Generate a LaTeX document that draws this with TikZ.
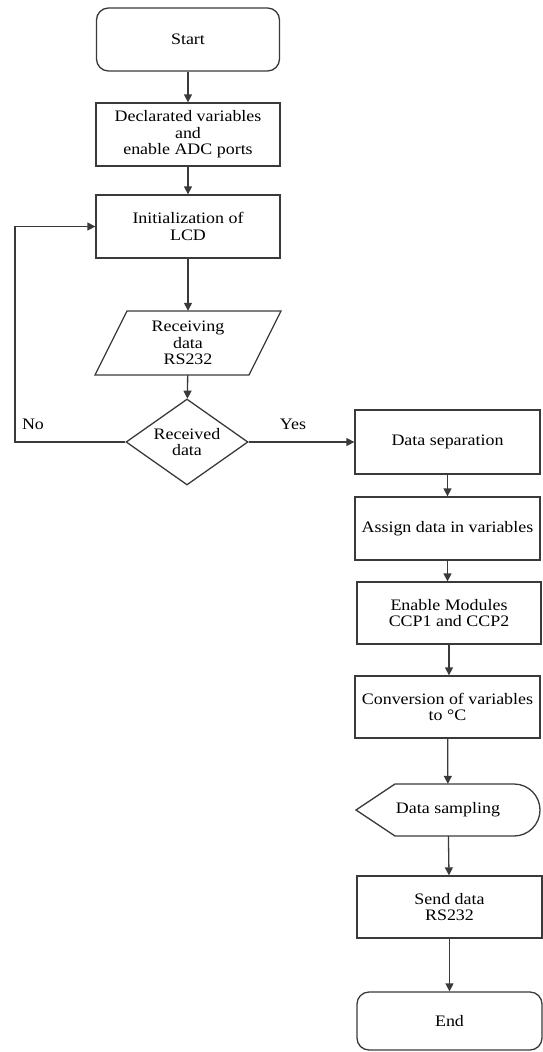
\documentclass[tikz,border=0pt]{standalone}
\usepackage{fontspec}
\setmainfont{Liberation Serif}[FakeStretch=1.12]
\usetikzlibrary{arrows.meta,shapes.geometric}
\definecolor{ln}{HTML}{3A3A3A}
\tikzset{
  every node/.style={font=\fontsize{16}{16.5}\selectfont, text=black, align=center},
  box/.style={draw=ln, line width=1.3pt, rectangle, inner sep=0pt},
  term/.style={box, rounded corners=12pt},
  arr/.style={draw=ln, line width=1.3pt, -{Triangle[length=8pt,width=8pt]}},
  lbl/.style={font=\fontsize{16}{16.5}\selectfont}
}
\begin{document}
\begin{tikzpicture}[x=1pt,y=-1pt]
\useasboundingbox (0,0) rectangle (542,1052);
\node[term, minimum width=183pt, minimum height=63pt] (start) at (188,39.5) {Start};
\node[box, minimum width=184pt, minimum height=63pt] (decl) at (188,134.5) {Declarated variables\\and\\enable ADC ports};
\node[box, minimum width=184pt, minimum height=63pt] (init) at (188,226.5) {Initialization of\\LCD};
\draw[ln, line width=1.3pt] (127,311) -- (281,311) -- (249,375) -- (95,375) -- cycle;
\node[minimum width=152pt, minimum height=64pt, inner sep=0pt] (recv) at (188,343) {Receiving\\data\\RS232};
\node[draw=ln, line width=1.3pt, diamond, aspect=1.42, minimum width=122pt, minimum height=86pt, inner sep=0pt] (dec) at (187,442) {Received\\data};
\node[box, minimum width=185pt, minimum height=64pt] (sep) at (447.5,442) {Data separation};
\node[box, minimum width=185pt, minimum height=63pt] (assign) at (447.5,528.5) {Assign data in variables};
\node[box, minimum width=184pt, minimum height=62pt] (enable) at (449,613) {Enable Modules\\CCP1 and CCP2};
\node[box, minimum width=185pt, minimum height=62pt] (conv) at (447.5,707) {Conversion of variables\\to °C};
\draw[ln, line width=1.3pt] (356,810) -- (395,784) -- (514,784) arc[start angle=90, end angle=-90, radius=26pt] -- (395,836) -- cycle;
\node[minimum width=184pt, minimum height=52pt, inner sep=0pt] (samp) at (448,810) {Data sampling};
\node[box, minimum width=185pt, minimum height=62pt] (send) at (449.5,907) {Send data\\RS232};
\node[term, minimum width=185pt, minimum height=58pt] (end) at (449.5,1021) {End};
\coordinate (lb) at (15,442);
\coordinate (lt) at (15,226.5);
\node[lbl] (no) at (33,424) {No};
\node[lbl] (yes) at (293,424) {Yes};
\draw[arr] (start) -- (decl);
\draw[arr] (decl) -- (init);
\draw[arr] (init) -- (recv);
\draw[arr] (recv) -- (dec);
\draw[arr] (dec) -- (sep);
\draw[arr] (dec.west) -- (lb) -- (lt) -- (init.west);
\draw[arr] (sep) -- (assign);
\draw[arr] (assign.south) -- (assign.south |- enable.north);
\draw[arr] (enable.south) -- (enable.south |- conv.north);
\draw[arr] (conv) -- (samp);
\draw[arr] (samp) -- (send);
\draw[arr] (send) -- (end);
\end{tikzpicture}
\end{document}
